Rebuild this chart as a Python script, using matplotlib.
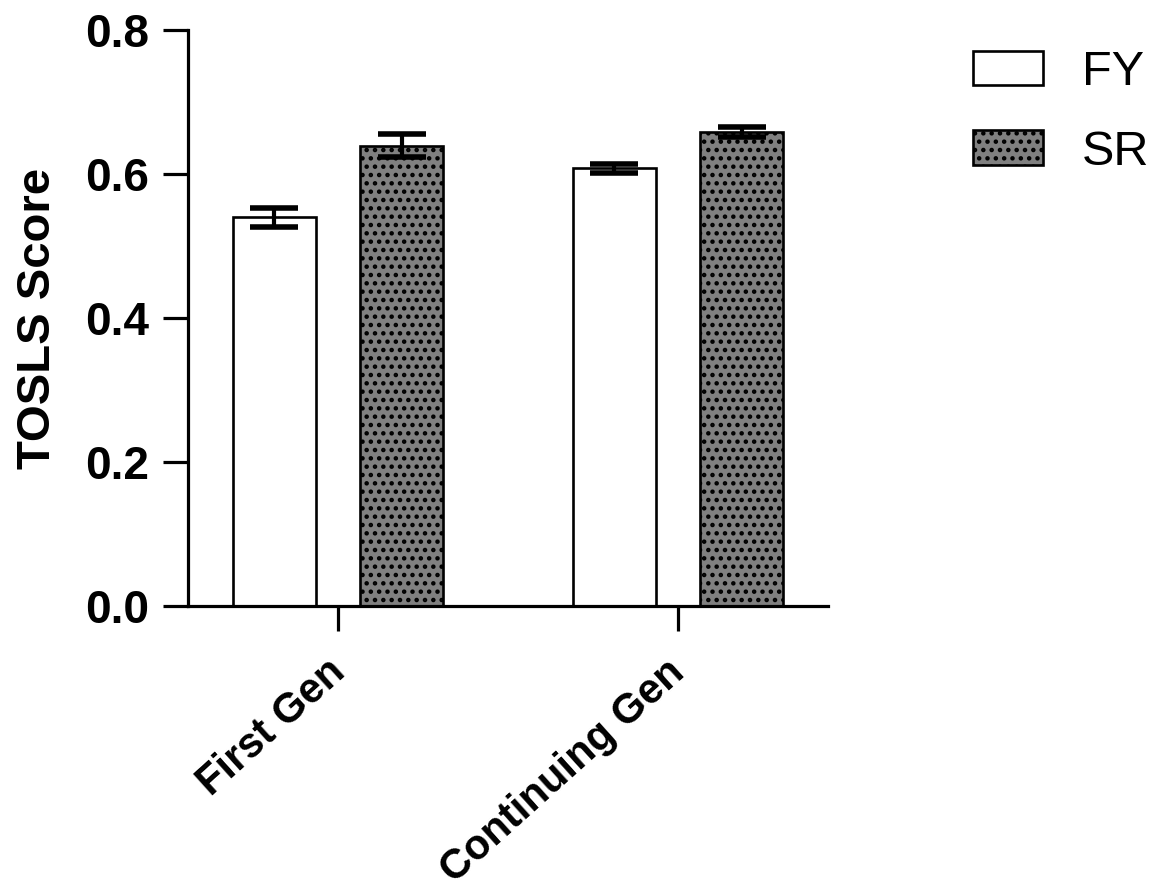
import matplotlib.pyplot as plt
import numpy as np
from matplotlib.patches import Patch
from matplotlib.transforms import ScaledTranslation

groups = ['First Gen', 'Continuing Gen']
series = ['FY', 'SR']
fy_mean = [0.540, 0.608]
fy_err = [0.013, 0.006]
sr_mean = [0.639, 0.658]
sr_err = [0.016, 0.007]

plt.rcParams['font.family'] = ['Liberation Sans', 'DejaVu Sans']
plt.rcParams['hatch.linewidth'] = 2.0
plt.rcParams['hatch.color'] = 'black'

fig = plt.figure(figsize=(11.58, 8.96), dpi=100)
ax = fig.add_axes([188/1158, 1-606/896, (828-188)/1158, 576/896])

x = np.arange(len(groups))
w = 0.244
off = 0.188
lw = 2.3
fs = 33

ax.bar(x - off, fy_mean, width=w, color='white', edgecolor='black', linewidth=1.9, zorder=2)
ax.bar(x + off, sr_mean, width=w, color='#808080', edgecolor='black', linewidth=1.9, hatch='..', zorder=2)
for xs, m, e in [(x - off, fy_mean, fy_err), (x + off, sr_mean, sr_err)]:
    eb = ax.errorbar(xs, m, yerr=e, fmt='none', ecolor='black', elinewidth=3, capsize=17, capthick=4, zorder=3)
    for ln in eb.lines[1]:
        ln.set_solid_capstyle('round')

ax.set_xlim(-0.441, 1.441)
ax.set_ylim(0, 0.8)
ax.set_yticks([0.0, 0.2, 0.4, 0.6, 0.8])
ax.set_yticklabels(['0.0', '0.2', '0.4', '0.6', '0.8'], fontsize=fs, fontweight='bold')
ax.set_xticks(x)
ax.set_xticklabels(groups, fontsize=30, fontweight='bold', rotation=42, ha='right', va='top', rotation_mode='anchor')
ax.tick_params(axis='y', width=lw, length=18, direction='out', pad=10)
ax.tick_params(axis='x', width=lw, length=18, direction='out', pad=15)
# nudge the rotated labels so their ends sit under the ticks
for lab in ax.get_xticklabels():
    lab.set_transform(lab.get_transform() + ScaledTranslation(-0.12, 0, fig.dpi_scale_trans))
ax.spines['top'].set_visible(False)
ax.spines['right'].set_visible(False)
ax.spines['left'].set_linewidth(lw)
ax.spines['bottom'].set_linewidth(lw)
ax.spines['left'].set_bounds(0, 0.8)
ax.set_ylabel('TOSLS Score', fontsize=34, fontweight='bold', labelpad=18)

handles = [Patch(facecolor='white', edgecolor='black', linewidth=1.9),
           Patch(facecolor='#808080', edgecolor='black', linewidth=1.9, hatch='..')]
fig.legend(handles, series, loc='upper left', bbox_to_anchor=(973/1158, 1-50/896), frameon=False,
           fontsize=35, handlelength=1.44, handleheight=0.7, handletextpad=0.8, labelspacing=0.71,
           borderpad=0, borderaxespad=0)

plt.savefig('out.png', dpi=100)
